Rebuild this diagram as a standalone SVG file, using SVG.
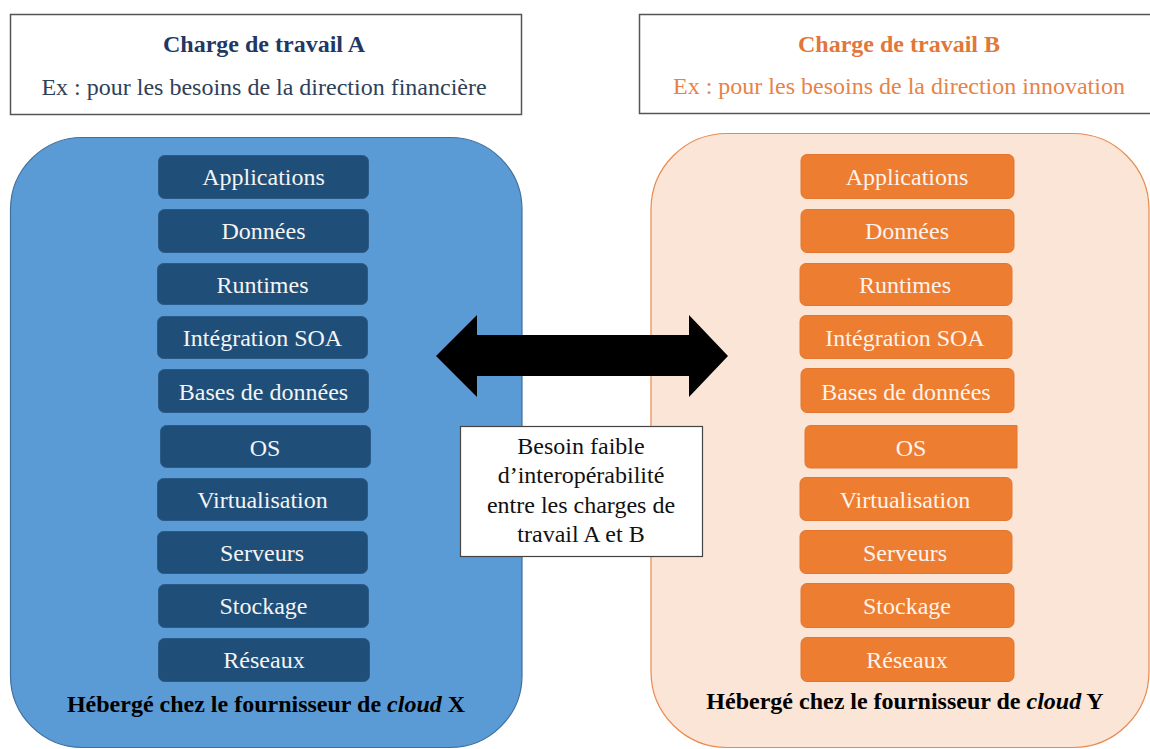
<svg xmlns="http://www.w3.org/2000/svg" width="1150" height="749" viewBox="0 0 1150 749">
<style>
  text { font-family: "Liberation Serif", "Times New Roman", serif; }
  .hdr { fill: #ffffff; stroke: #555555; stroke-width: 1.5; }
  .tA { font-size: 24px; font-weight: bold; fill: #1f3864; text-anchor: middle; }
  .sA { font-size: 24px; fill: #2f4158; text-anchor: middle; }
  .tB { font-size: 24px; font-weight: bold; fill: #e2773a; text-anchor: middle; }
  .sB { font-size: 24px; fill: #e68348; text-anchor: middle; }
  .cloudA { fill: #5b9bd5; stroke: #3f6f9e; stroke-width: 1.2; }
  .cloudB { fill: #fbe5d6; stroke: #e88a4f; stroke-width: 1.2; }
  .lb { fill: #1f4e79; stroke: #2a5a88; stroke-width: 1; }
  .lo { fill: #ed7d31; stroke: #e3772f; stroke-width: 1; }
  .lbt { font-size: 24px; fill: #f4f4f4; text-anchor: middle; }
  .lot { font-size: 24px; fill: #fdf3ec; text-anchor: middle; }
  .host { font-size: 24px; font-weight: bold; fill: #000000; text-anchor: middle; }
  .note { fill: #ffffff; stroke: #444444; stroke-width: 1.2; }
  .nt { font-size: 24px; fill: #111111; text-anchor: middle; }
</style>

<!-- Header boxes -->
<g id="charge-a">
  <rect class="hdr" x="10.5" y="14.5" width="511" height="100"/>
  <text class="tA" x="264" y="52">Charge de travail A</text>
  <text class="sA" x="264" y="95">Ex : pour les besoins de la direction  financière</text>
</g>
<g id="charge-b">
  <rect class="hdr" x="639.5" y="14.5" width="522" height="99"/>
  <text class="tB" x="899" y="52">Charge de travail B</text>
  <text class="sB" x="899" y="94">Ex : pour les besoins de la direction innovation</text>
</g>

<!-- Cloud X container -->
<g id="cloud-x">
  <rect class="cloudA" x="10.5" y="137.5" width="511.5" height="610" rx="72" ry="72"/>
  <text class="host" x="266" y="712">Hébergé  chez le fournisseur de <tspan font-style="italic">cloud</tspan> X</text>
</g>

<!-- Cloud Y container -->
<g id="cloud-y">
  <rect class="cloudB" x="651" y="133.5" width="498" height="614" rx="76" ry="76"/>
  <text class="host" x="905" y="709">Hébergé  chez le fournisseur de <tspan font-style="italic">cloud</tspan> Y</text>
</g>

<!-- Stack A -->
<g id="a-applications"><rect class="lb" x="158.5" y="155.5" width="210" height="43" rx="6"/><text class="lbt" x="263.5" y="185">Applications</text></g>
<g id="a-donnees"><rect class="lb" x="158.5" y="209.5" width="210" height="43" rx="6"/><text class="lbt" x="263.5" y="239">Données</text></g>
<g id="a-runtimes"><rect class="lb" x="157.5" y="263.5" width="210" height="41" rx="6"/><text class="lbt" x="262.5" y="293">Runtimes</text></g>
<g id="a-integration"><rect class="lb" x="157.5" y="316.5" width="210" height="42" rx="6"/><text class="lbt" x="262.5" y="346">Intégration SOA</text></g>
<g id="a-bases"><rect class="lb" x="158.5" y="369.5" width="210" height="43" rx="6"/><text class="lbt" x="263.5" y="400">Bases de données</text></g>
<g id="a-os"><rect class="lb" x="160.5" y="425.5" width="210" height="42" rx="6"/><text class="lbt" x="265" y="456">OS</text></g>
<g id="a-virtualisation"><rect class="lb" x="157.5" y="478.5" width="210" height="42" rx="6"/><text class="lbt" x="262.5" y="508">Virtualisation</text></g>
<g id="a-serveurs"><rect class="lb" x="157.5" y="531.5" width="210" height="42" rx="6"/><text class="lbt" x="262" y="561">Serveurs</text></g>
<g id="a-stockage"><rect class="lb" x="158.5" y="584.5" width="210" height="43" rx="6"/><text class="lbt" x="263.5" y="614">Stockage</text></g>
<g id="a-reseaux"><rect class="lb" x="158.5" y="638.5" width="211" height="43" rx="6"/><text class="lbt" x="264" y="668">Réseaux</text></g>

<!-- Stack B -->
<g id="b-applications"><rect class="lo" x="801" y="154.5" width="213" height="44" rx="6"/><text class="lot" x="907" y="185">Applications</text></g>
<g id="b-donnees"><rect class="lo" x="801" y="209.5" width="213" height="43" rx="6"/><text class="lot" x="907" y="239">Données</text></g>
<g id="b-runtimes"><rect class="lo" x="800" y="263.5" width="212" height="42" rx="6"/><text class="lot" x="905" y="293">Runtimes</text></g>
<g id="b-integration"><rect class="lo" x="800" y="315.5" width="212" height="43" rx="6"/><text class="lot" x="905" y="346">Intégration SOA</text></g>
<g id="b-bases"><rect class="lo" x="801" y="368.5" width="213" height="44" rx="6"/><text class="lot" x="906" y="400">Bases de données</text></g>
<g id="b-os"><path class="lo" d="M811,425.5 H1017 V468 H811 Q805,468 805,462 V431.5 Q805,425.5 811,425.5 Z"/><text class="lot" x="911" y="456">OS</text></g>
<g id="b-virtualisation"><rect class="lo" x="800" y="477.5" width="212" height="43" rx="6"/><text class="lot" x="905" y="508">Virtualisation</text></g>
<g id="b-serveurs"><rect class="lo" x="800" y="530.5" width="212" height="43" rx="6"/><text class="lot" x="905" y="561">Serveurs</text></g>
<g id="b-stockage"><rect class="lo" x="801" y="583.5" width="213" height="44" rx="6"/><text class="lot" x="907" y="614">Stockage</text></g>
<g id="b-reseaux"><rect class="lo" x="801" y="637.5" width="213" height="44" rx="6"/><text class="lot" x="907" y="668">Réseaux</text></g>

<!-- Connector -->
<g id="connectors">
  <path d="M436,356 L477,315 L477,335 L689,335 L689,315 L728,356 L689,397 L689,376 L477,376 L477,397 Z" fill="#000000"/>
</g>

<!-- Note -->
<g id="note">
  <rect class="note" x="460.5" y="426.5" width="242" height="130"/>
  <text class="nt" x="581" y="454">Besoin faible</text>
  <text class="nt" x="581" y="483">d’interopérabilité</text>
  <text class="nt" x="581" y="513">entre les charges de</text>
  <text class="nt" x="581" y="542">travail A et B</text>
</g>
</svg>
